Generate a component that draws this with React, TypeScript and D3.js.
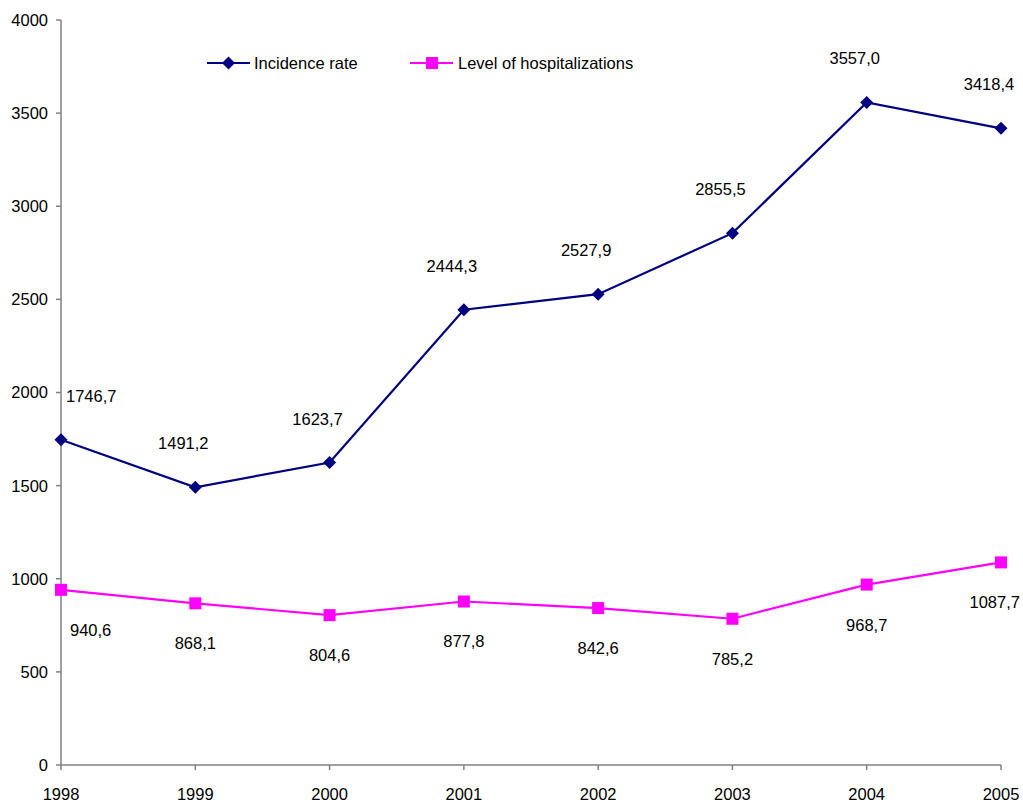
import React from "react";
import * as d3 from "d3";

const years = ["1998", "1999", "2000", "2001", "2002", "2003", "2004", "2005"];
const incidence = [1746.7, 1491.2, 1623.7, 2444.3, 2527.9, 2855.5, 3557.0, 3418.4];
const hospital = [940.6, 868.1, 804.6, 877.8, 842.6, 785.2, 968.7, 1087.7];
const yTicks = [0, 500, 1000, 1500, 2000, 2500, 3000, 3500, 4000];
const seriesNames = ["Incidence rate", "Level of hospitalizations"];

const W = 1023;
const H = 804;
const NAVY = "#000080";
const MAGENTA = "#FF00FF";
const AXIS = "#808080";
const FONT = "'Liberation Sans', Arial, sans-serif";
const FS = 16.5;

const fmt = (v: number) => v.toFixed(1).replace(".", ",");

export default function App() {
  const x = d3.scalePoint<string>().domain(years).range([61, 1001]);
  const y = d3.scaleLinear().domain([0, 4000]).range([765, 20]);
  const line = d3
    .line<number>()
    .x((_, i) => x(years[i]) as number)
    .y((d) => y(d));

  const diamond = (cx: number, cy: number, r = 6.5) =>
    `M${cx},${cy - r}L${cx + r},${cy}L${cx},${cy + r}L${cx - r},${cy}Z`;

  const clampCenter = (cx: number, s: string) => {
    const w = s.length * 0.53 * FS;
    return Math.min(cx, W - 2 - w / 2);
  };

  return (
    <svg
      width={W}
      height={H}
      style={{ position: "absolute", left: 0, top: 0, background: "#fff" }}
      fontFamily={FONT}
    >
      <rect width={W} height={H} fill="#fff" />
      {/* Y axis */}
      <line x1={61} x2={61} y1={y(4000)} y2={y(0)} stroke={AXIS} strokeWidth={1.5} />
      {yTicks.map((t) => (
        <g key={t}>
          <line x1={56} x2={61} y1={y(t)} y2={y(t)} stroke={AXIS} strokeWidth={1.5} />
          <text x={48} y={y(t)} dy="0.36em" textAnchor="end" fontSize={FS} fill="#000">
            {t}
          </text>
        </g>
      ))}
      {/* X axis */}
      <line x1={61} x2={1001} y1={y(0)} y2={y(0)} stroke={AXIS} strokeWidth={1.5} />
      {years.map((yr) => (
        <g key={yr}>
          <line x1={x(yr)} x2={x(yr)} y1={y(0)} y2={y(0) + 5} stroke={AXIS} strokeWidth={1.5} />
          <text x={x(yr)} y={800} textAnchor="middle" fontSize={FS} fill="#000">
            {yr}
          </text>
        </g>
      ))}

      {/* Series lines */}
      <path d={line(incidence) || ""} fill="none" stroke={NAVY} strokeWidth={2.2} />
      <path d={line(hospital) || ""} fill="none" stroke={MAGENTA} strokeWidth={2.2} />

      {incidence.map((v, i) => {
        const cx = x(years[i]) as number;
        const cy = y(v);
        return <path key={"d" + i} d={diamond(cx, cy)} fill={NAVY} />;
      })}
      {hospital.map((v, i) => {
        const cx = x(years[i]) as number;
        const cy = y(v);
        return <rect key={"s" + i} x={cx - 6} y={cy - 6} width={12} height={12} fill={MAGENTA} />;
      })}

      {/* Data labels */}
      {incidence.map((v, i) => {
        const cx = x(years[i]) as number;
        const cy = y(v);
        const first = i === 0;
        const s = fmt(v);
        return (
          <text
            key={"li" + i}
            x={first ? cx + 5 : clampCenter(cx - 12, s)}
            y={cy - 44}
            dy="0.36em"
            textAnchor={first ? "start" : "middle"}
            fontSize={FS}
            fill="#000"
          >
            {s}
          </text>
        );
      })}
      {hospital.map((v, i) => {
        const cx = x(years[i]) as number;
        const cy = y(v);
        const first = i === 0;
        const s = fmt(v);
        return (
          <text
            key={"lh" + i}
            x={first ? cx + 9 : clampCenter(cx, s)}
            y={cy + 40}
            dy="0.36em"
            textAnchor={first ? "start" : "middle"}
            fontSize={FS}
            fill="#000"
          >
            {s}
          </text>
        );
      })}

      {/* Legend */}
      <g>
        <line x1={207} x2={250} y1={63} y2={63} stroke={NAVY} strokeWidth={2.2} />
        <path d={diamond(228.5, 63)} fill={NAVY} />
        <text x={254} y={63} dy="0.36em" fontSize={FS} fill="#000">
          {seriesNames[0]}
        </text>
        <line x1={410} x2={453} y1={63} y2={63} stroke={MAGENTA} strokeWidth={2.2} />
        <rect x={426} y={57} width={12} height={12} fill={MAGENTA} />
        <text x={458} y={63} dy="0.36em" fontSize={FS} fill="#000">
          {seriesNames[1]}
        </text>
      </g>
    </svg>
  );
}
